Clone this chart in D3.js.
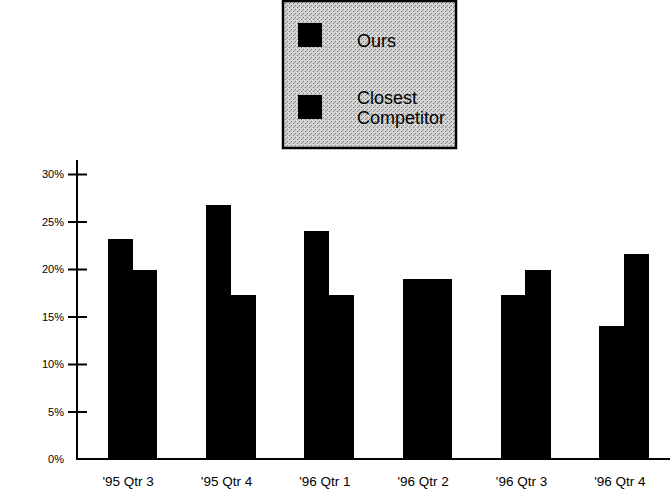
<!DOCTYPE html>
<html>
<head>
<meta charset="utf-8">
<script src="https://cdn.jsdelivr.net/npm/d3@7"></script>
<style>
  body { margin: 0; background: #fff; }
  svg { display: block; font-family: "Liberation Sans", Arial, sans-serif; }
</style>
</head>
<body>
<div id="chart"></div>
<script>
const quarters = ["'95 Qtr 3", "'95 Qtr 4", "'96 Qtr 1", "'96 Qtr 2", "'96 Qtr 3", "'96 Qtr 4"];
const seriesNames = ["Ours", "Closest Competitor"];
const ours = [0.232, 0.267, 0.240, 0.190, 0.173, 0.140];
const competitor = [0.199, 0.173, 0.173, 0.190, 0.199, 0.216];
const yTicks = [0, 0.05, 0.10, 0.15, 0.20, 0.25, 0.30];

const W = 670, H = 501;

const svg = d3.select("#chart").append("svg")
    .attr("width", W)
    .attr("height", H);

/* dithered grey for the legend box */
const pat = svg.append("defs").append("pattern")
    .attr("id", "dither")
    .attr("patternUnits", "userSpaceOnUse")
    .attr("width", 4).attr("height", 4);
pat.append("rect").attr("width", 4).attr("height", 4).attr("fill", "#d4d4d4");
pat.append("rect").attr("x", 0).attr("y", 0).attr("width", 1).attr("height", 1).attr("fill", "#777");
pat.append("rect").attr("x", 2).attr("y", 2).attr("width", 1).attr("height", 1).attr("fill", "#777");
pat.append("rect").attr("x", 3).attr("y", 1).attr("width", 1).attr("height", 1).attr("fill", "#999");

/* scales */
const x = d3.scaleBand()
    .domain(quarters)
    .range([83, 673])
    .paddingInner(0.5)
    .paddingOuter(0.25);

const xSub = d3.scaleBand()
    .domain(seriesNames)
    .range([0, x.bandwidth()]);

const y = d3.scaleLinear()
    .domain([0, 0.30])
    .range([459, 174]);

const axisX = 77;

/* bars */
const rows = quarters.map(function(q, i) {
    return { q: q, vals: [ours[i], competitor[i]] };
});

const groups = svg.selectAll(".grp")
    .data(rows)
    .enter().append("g")
    .attr("class", "grp")
    .attr("transform", function(d) { return "translate(" + x(d.q) + ",0)"; });

groups.selectAll("rect")
    .data(function(d) { return d.vals.map(function(v, j) { return { s: seriesNames[j], v: v }; }); })
    .enter().append("rect")
    .attr("x", function(d) { return xSub(d.s); })
    .attr("y", function(d) { return y(d.v); })
    .attr("width", xSub.bandwidth() + 0.5)
    .attr("height", function(d) { return y(0) - y(d.v); })
    .attr("fill", "#000")
    .attr("shape-rendering", "crispEdges");

/* y axis */
const yAxis = svg.append("g")
    .attr("transform", "translate(" + axisX + ",0)")
    .call(d3.axisLeft(y)
        .tickValues(yTicks)
        .tickFormat(d3.format(".0%"))
        .tickSize(9)
        .tickPadding(4));
yAxis.select(".domain").remove();
yAxis.selectAll(".tick line").attr("stroke", "#000").attr("stroke-width", 2)
    .attr("x1", 10).attr("x2", -9);
yAxis.selectAll(".tick").filter(function(d) { return d === 0; }).select("line").remove();
yAxis.selectAll(".tick text")
    .attr("x", -13)
    .attr("fill", "#000")
    .style("font-size", "11px");

svg.append("line")
    .attr("x1", axisX).attr("x2", axisX)
    .attr("y1", 160).attr("y2", y(0))
    .attr("stroke", "#000").attr("stroke-width", 2);

/* x axis */
const xAxis = svg.append("g")
    .attr("transform", "translate(0," + y(0) + ")")
    .call(d3.axisBottom(x).tickSize(0).tickPadding(17));
xAxis.select(".domain").remove();
xAxis.selectAll(".tick text")
    .attr("fill", "#000")
    .attr("dx", -4)
    .style("font-size", "13.5px");

svg.append("line")
    .attr("x1", axisX - 1).attr("x2", W)
    .attr("y1", y(0)).attr("y2", y(0))
    .attr("stroke", "#000").attr("stroke-width", 2);

/* legend */
const legend = svg.append("g").attr("transform", "translate(283,1)");
legend.append("rect")
    .attr("width", 173)
    .attr("height", 147)
    .attr("fill", "url(#dither)")
    .attr("stroke", "#000")
    .attr("stroke-width", 2.5);

const legendRows = [
    { name: seriesNames[0], lines: ["Ours"], top: 22, textY: [46] },
    { name: seriesNames[1], lines: ["Closest", "Competitor"], top: 94, textY: [103, 123] }
];

legendRows.forEach(function(r) {
    legend.append("rect")
        .attr("x", 15).attr("y", r.top)
        .attr("width", 24).attr("height", 24)
        .attr("fill", "#000");
    r.lines.forEach(function(t, k) {
        legend.append("text")
            .attr("x", 74)
            .attr("y", r.textY[k])
            .style("font-size", "18px")
            .attr("fill", "#000")
            .text(t);
    });
});
</script>
</body>
</html>
